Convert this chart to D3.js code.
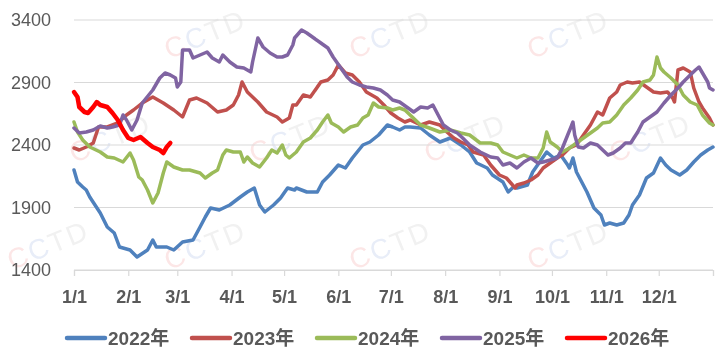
<!DOCTYPE html>
<html>
<head>
<meta charset="utf-8">
<script src="https://cdn.jsdelivr.net/npm/d3@7"></script>
<style>
  html, body { margin: 0; padding: 0; background: #fff; }
  svg { display: block; }
</style>
</head>
<body>
<svg id="chart" width="720" height="358"></svg>
<script>
// ---- data ----
const yTicks = [1400, 1900, 2400, 2900, 3400];
const monthStartDays = [0, 31, 59, 90, 120, 151, 181, 212, 243, 273, 304, 334, 365];
const monthLabels = ["1/1", "2/1", "3/1", "4/1", "5/1", "6/1", "7/1", "8/1", "9/1", "10/1", "11/1", "12/1"];
const seriesNames = ["2022年", "2023年", "2024年", "2025年", "2026年"];
const seriesColors = ["#4f81bd", "#c0504d", "#9bbb59", "#8064a2", "#ff0000"];
const watermarkText = "CCTD";

const days2022 = [0,2,5,7,9,15,19,23,26,32,36,42,45,47,53,57,62,68,72,75,78,83,89,95,99,103,106,109,114,118,122,126,127,133,139,142,146,151,155,159,165,169,174,179,182,186,189,192,198,203,209,215,221,226,230,236,239,245,248,251,253,259,262,266,270,274,278,282,283,285,287,293,297,301,303,306,310,314,317,319,323,327,331,335,338,341,346,350,354,358,362,365];
const values2022 = [2200,2104,2064,2040,1984,1856,1744,1696,1584,1560,1504,1560,1640,1584,1584,1560,1624,1640,1744,1824,1896,1880,1920,1984,2024,2056,1920,1864,1920,1976,2056,2040,2056,2024,2024,2104,2160,2240,2216,2296,2400,2424,2480,2560,2544,2520,2544,2544,2536,2480,2424,2456,2400,2344,2256,2216,2160,2104,2024,2064,2056,2080,2184,2264,2344,2296,2320,2240,2216,2296,2184,2024,1896,1840,1760,1776,1760,1776,1840,1920,2000,2136,2176,2296,2240,2200,2160,2200,2264,2320,2360,2384];

const days2023 = [0,3,7,11,14,19,25,30,34,39,45,51,57,62,66,70,76,82,87,91,94,96,99,105,110,116,119,123,125,127,131,135,141,145,148,151,155,159,163,167,173,177,181,185,189,192,198,203,209,213,217,221,225,228,234,238,243,247,252,253,257,261,265,268,272,276,279,283,287,291,295,299,302,306,310,312,316,319,323,327,331,335,339,342,343,345,348,352,354,357,359,363,365];
const values2023 = [2376,2360,2384,2416,2544,2544,2576,2640,2680,2736,2784,2736,2680,2624,2760,2776,2736,2664,2680,2720,2800,2904,2824,2744,2664,2624,2584,2616,2720,2720,2800,2784,2904,2920,2960,3040,2976,2960,2904,2824,2776,2720,2656,2616,2584,2600,2560,2584,2560,2504,2456,2424,2400,2344,2320,2240,2160,2136,2056,2080,2096,2120,2160,2216,2256,2296,2320,2376,2400,2480,2560,2664,2640,2776,2824,2880,2904,2896,2904,2864,2824,2816,2824,2776,2744,3000,3016,2984,2856,2744,2696,2616,2560];

const days2024 = [0,2,5,9,15,19,23,28,32,34,37,39,42,45,48,51,53,57,62,66,72,75,79,82,85,87,91,95,97,99,102,106,110,113,116,119,121,123,127,131,135,139,142,145,147,151,154,158,162,165,168,171,174,179,182,186,189,192,198,203,209,215,221,226,232,238,242,245,249,253,257,261,265,268,270,272,276,279,283,287,291,295,299,302,306,310,314,318,322,325,329,331,333,335,337,341,345,348,352,356,359,363,365];
const values2024 = [2584,2504,2440,2384,2344,2304,2296,2264,2336,2280,2144,2120,2040,1936,2016,2176,2264,2224,2200,2200,2176,2136,2176,2200,2320,2360,2344,2344,2264,2304,2256,2224,2296,2360,2336,2400,2320,2296,2344,2424,2456,2520,2584,2640,2576,2544,2504,2544,2560,2616,2640,2736,2704,2696,2680,2696,2680,2640,2560,2536,2504,2520,2496,2480,2416,2416,2400,2344,2320,2296,2320,2296,2296,2376,2504,2424,2384,2344,2376,2416,2456,2496,2536,2576,2584,2640,2720,2776,2840,2904,2920,2960,3104,3016,2984,2936,2880,2800,2744,2720,2640,2576,2560];

const days2025 = [0,3,7,11,15,19,22,26,28,30,33,36,39,45,49,52,55,58,59,61,62,66,68,72,76,79,83,85,89,93,97,101,102,105,108,112,116,119,122,125,126,130,133,137,141,145,148,152,156,159,163,167,171,175,179,182,186,190,194,198,202,205,208,211,215,219,222,226,232,238,242,245,249,253,257,261,265,268,272,276,279,282,285,286,288,291,295,299,302,305,308,312,315,318,322,325,329,333,337,341,345,348,352,355,357,359,362,363,365];
const values2025 = [2536,2496,2504,2520,2552,2536,2544,2560,2640,2600,2520,2600,2736,2840,2936,2976,2960,2936,2864,2904,3160,3160,3096,3120,3144,3096,3064,3120,3064,3024,3016,2984,3064,3256,3184,3136,3104,3104,3120,3200,3256,3320,3296,3256,3216,3176,3104,3024,2944,2904,2880,2864,2856,2840,2800,2760,2744,2704,2664,2704,2696,2720,2640,2560,2520,2496,2456,2400,2344,2304,2296,2240,2256,2216,2264,2296,2256,2264,2280,2296,2376,2480,2584,2480,2384,2376,2416,2400,2360,2320,2336,2376,2416,2416,2504,2584,2624,2664,2736,2800,2856,2904,2960,3000,3024,2976,2904,2856,2840];

const days2026 = [0,2,3,6,8,11,13,15,19,22,25,28,31,34,38,42,45,49,51,53,55];
const values2026 = [2824,2784,2704,2664,2656,2704,2744,2720,2704,2656,2600,2520,2456,2440,2464,2416,2384,2360,2336,2384,2416];

const allDays = [days2022, days2023, days2024, days2025, days2026];
const allValues = [values2022, values2023, values2024, values2025, values2026];

// ---- chart ----
const svg = d3.select("#chart");
const x = d3.scaleLinear().domain([0, 365]).range([74, 713]);
const y = d3.scaleLinear().domain([1400, 3400]).range([270, 20]);

// faint watermarks (kept inside the picture)
const wmPos = [[205, 34], [390, 34], [568, 34],
               [110, 138], [290, 138], [465, 138], [650, 138],
               [48, 245], [205, 245], [390, 245], [568, 245]];
const wm = svg.append("g").attr("opacity", 0.11);
wmPos.forEach(p => {
  const t = wm.append("text")
    .attr("transform", `translate(${p[0]},${p[1]}) rotate(-22)`)
    .attr("text-anchor", "middle")
    .attr("dy", "0.35em")
    .attr("font-family", "'Liberation Sans', Arial, sans-serif")
    .attr("font-size", 28)
    .attr("letter-spacing", 2);
  t.append("tspan").attr("fill", "#e02020").text(watermarkText[0]);
  t.append("tspan").attr("fill", "#3060c0").text(watermarkText[1]);
  t.append("tspan").attr("fill", "#808080").text(watermarkText.slice(2));
});

// gridlines
svg.append("g")
  .selectAll("line")
  .data(yTicks)
  .join("line")
  .attr("x1", x(0)).attr("x2", x(365))
  .attr("y1", d => y(d)).attr("y2", d => y(d))
  .attr("stroke", "#d9d9d9").attr("stroke-width", 1.2);

// y labels
svg.append("g")
  .selectAll("text")
  .data(yTicks)
  .join("text")
  .attr("x", 51).attr("y", d => y(d))
  .attr("dy", "0.36em")
  .attr("text-anchor", "end")
  .attr("font-family", "'Liberation Sans', Arial, sans-serif")
  .attr("font-size", 18)
  .attr("fill", "#595959")
  .text(d => d);

// x axis
const xAxis = d3.axisBottom(x)
  .tickValues(monthStartDays)
  .tickSize(6)
  .tickFormat((d, i) => monthLabels[i] || "");
const gx = svg.append("g").attr("transform", `translate(0,${y(1400)})`).call(xAxis);
gx.select(".domain").attr("stroke", "#d9d9d9").attr("stroke-width", 1.2);
gx.selectAll(".tick line").attr("stroke", "#d9d9d9").attr("stroke-width", 1.2);
gx.selectAll(".tick text")
  .attr("y", 27)
  .attr("dy", "0.36em")
  .attr("font-family", "'Liberation Sans', Arial, sans-serif")
  .attr("font-size", 18)
  .attr("font-weight", "bold")
  .attr("fill", "#595959");

// lines
const line = d3.line().x(d => x(d[0])).y(d => y(d[1])).curve(d3.curveLinear);
allDays.forEach((days, i) => {
  const pts = days.map((d, j) => [d, allValues[i][j]]);
  svg.append("path")
    .datum(pts)
    .attr("d", line)
    .attr("fill", "none")
    .attr("stroke", seriesColors[i])
    .attr("stroke-width", i === 4 ? 4.5 : 3.5)
    .attr("stroke-linejoin", "round")
    .attr("stroke-linecap", "round");
});

// legend
const legend = svg.append("g");
seriesNames.forEach((name, i) => {
  const lx = 67 + i * 125;
  const ly = 338;
  legend.append("line")
    .attr("x1", lx).attr("x2", lx + 38)
    .attr("y1", ly).attr("y2", ly)
    .attr("stroke", seriesColors[i])
    .attr("stroke-width", 4.5)
    .attr("stroke-linecap", "round");
  legend.append("text")
    .attr("x", lx + 41).attr("y", ly)
    .attr("dy", "0.36em")
    .attr("font-family", "'Liberation Sans', Arial, 'Noto Sans CJK SC', sans-serif")
    .attr("font-size", 19)
    .attr("font-weight", "bold")
    .attr("fill", "#595959")
    .text(name);
});
</script>
</body>
</html>
